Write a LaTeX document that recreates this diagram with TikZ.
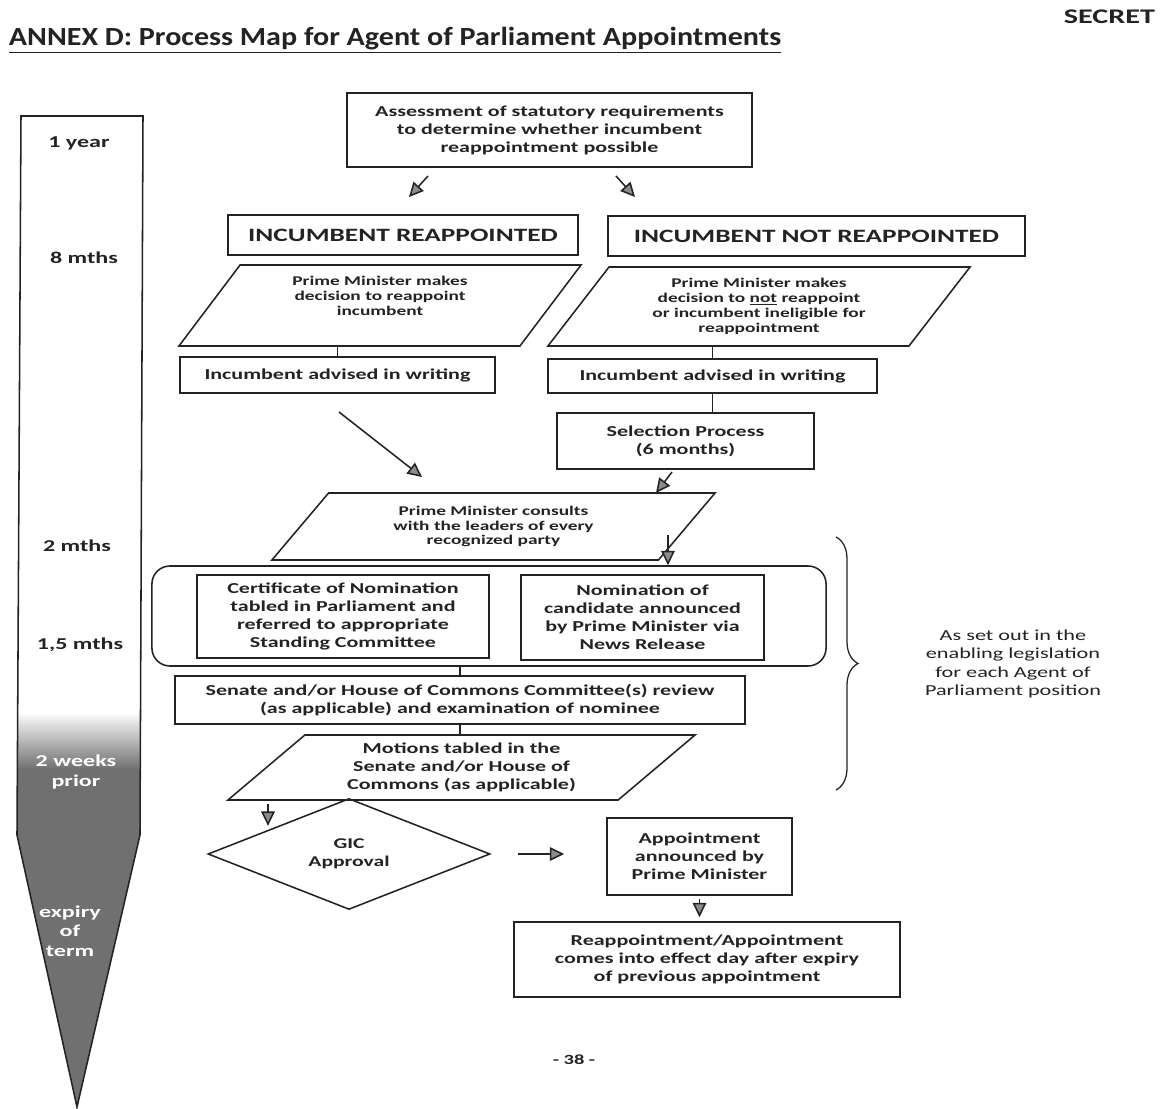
\documentclass[tikz,border=0pt]{standalone}
\usepackage{fontspec}
\setmainfont{Carlito}
\newfontfamily\widefont{Carlito}[FakeStretch=1.45]
\newfontfamily\titlefont{Carlito}[FakeStretch=1.15]
\usepackage{tikz}
\usetikzlibrary{shapes.geometric, arrows.meta, calc, decorations.pathreplacing}
\definecolor{inkgray}{RGB}{35,35,35}
\definecolor{headgray}{RGB}{140,140,140}
\definecolor{barfill}{RGB}{112,112,112}
\tikzset{
  box/.style={
    rectangle, draw=inkgray, line width=1.1pt, text=inkgray,
    align=center, inner sep=2pt,
    font=\widefont\bfseries\fontsize{10.8}{12.8}\selectfont},
  headbox/.style={
    box, font=\widefont\bfseries\fontsize{13.4}{16}\selectfont},
  slantbox/.style={
    trapezium, trapezium stretches body, draw=inkgray, line width=1.1pt,
    text=inkgray, align=center, inner sep=1pt,
    font=\widefont\bfseries\fontsize{9.5}{10.6}\selectfont},
  groupbox/.style={
    rectangle, draw=inkgray, line width=1.1pt, rounded corners=0.45cm},
  gicbox/.style={
    diamond, draw=inkgray, line width=1.1pt, text=inkgray,
    align=center, inner sep=0pt,
    font=\widefont\bfseries\fontsize{10.6}{12.6}\selectfont},
  tick/.style={
    text=inkgray, align=center,
    font=\widefont\bfseries\fontsize{11.8}{14}\selectfont},
  tickw/.style={tick, text=white},
  note/.style={
    text=inkgray, align=center,
    font=\widefont\fontsize{10.9}{13}\selectfont},
  arr/.style={-{Triangle[length=3.6mm, width=3.4mm, fill=headgray]}, line width=1.1pt, inkgray},
  link/.style={line width=1.1pt, inkgray},
}
\begin{document}
\begin{tikzpicture}[x=0.025cm, y=-0.025cm]
  \useasboundingbox (0,0) rectangle (1167,1109);

  % page header
  \node[anchor=east, text=inkgray, font=\widefont\bfseries\fontsize{14.8}{16}\selectfont]
    (secret) at (1160,17) {SECRET};
  \node[anchor=west, text=inkgray, font=\titlefont\bfseries\fontsize{18.6}{20}\selectfont]
    (title) at (4,40) {\underline{ANNEX D: Process Map for Agent of Parliament Appointments}};

  % time bar
  \begin{scope}
    \clip (21,116) -- (143,116) -- (140,835) -- (77,1107) -- (17,835) -- cycle;
    \fill[barfill] (0,768) rectangle (160,1109);
    \shade[top color=white, bottom color=barfill] (0,712) rectangle (160,769);
  \end{scope}
  \draw[link] (21,116) -- (143,116) -- (140,835) -- (77,1107) -- (17,835) -- cycle;
  \node[tick] (t1y) at (79,143) {1 year};
  \node[tick] (t8m) at (84,258) {8 mths};
  \node[tick] (t2m) at (77,546) {2 mths};
  \node[tick] (t15m) at (80,645) {1,5 mths};
  \node[tickw] (t2w) at (76,772) {2 weeks\\prior};
  \node[tickw] (texp) at (70,931) {expiry\\of\\term};

  % flow
  \node[box, minimum width=10.125cm, minimum height=1.85cm] (assess) at (549.5,130)
    {Assessment of statutory requirements\\to determine whether incumbent\\reappointment possible};
  \node[headbox, minimum width=8.75cm, minimum height=1cm] (reapp) at (403,235)
    {INCUMBENT REAPPOINTED};
  \node[headbox, minimum width=10.425cm, minimum height=1cm] (noreapp) at (816.5,236)
    {INCUMBENT NOT REAPPOINTED};
  \node[slantbox, trapezium left angle=45, trapezium right angle=135,
        minimum width=10.05cm, minimum height=2.025cm] (pmL) at (380,305.5)
    {Prime Minister makes\\decision to reappoint\\incumbent\\[3pt]};
  \node[slantbox, trapezium left angle=44, trapezium right angle=136,
        minimum width=10.55cm, minimum height=1.975cm] (pmR) at (759,306.5)
    {Prime Minister makes\\decision to \underline{not} reappoint\\or incumbent ineligible for\\reappointment};
  \node[box, minimum width=7.875cm, minimum height=0.9cm] (advL) at (337.5,375)
    {Incumbent advised in writing};
  \node[box, minimum width=8.225cm, minimum height=0.85cm] (advR) at (712.5,376)
    {Incumbent advised in writing};
  \node[box, minimum width=6.425cm, minimum height=1.4cm] (sel) at (685.5,441)
    {Selection Process\\(6 months)};
  \node[slantbox, trapezium left angle=38, trapezium right angle=142,
        minimum width=11.075cm, minimum height=1.675cm] (cons) at (493.5,526.5)
    {Prime Minister consults\\with the leaders of every\\recognized party};
  \node[groupbox, minimum width=16.85cm, minimum height=2.5cm] (grp) at (489,616) {};
  \node[box, minimum width=7.3cm, minimum height=2.075cm] (cert) at (343,616.5)
    {Certificate of Nomination\\tabled in Parliament and\\referred to appropriate\\Standing Committee};
  \node[box, minimum width=6.075cm, minimum height=2.125cm] (nom) at (642.5,617.5)
    {Nomination of\\candidate announced\\by Prime Minister via\\News Release};
  \node[box, minimum width=14.25cm, minimum height=1.2cm] (rev) at (460,700)
    {Senate and/or House of Commons Committee(s) review\\(as applicable) and examination of nominee};
  \node[slantbox, font=\widefont\bfseries\fontsize{10.8}{12.8}\selectfont,
        trapezium left angle=34, trapezium right angle=146,
        minimum width=11.675cm, minimum height=1.625cm] (mot) at (461.5,767.5)
    {Motions tabled in the\\Senate and/or House of\\Commons (as applicable)};
  \node[gicbox, minimum width=7.05cm, minimum height=2.3cm] (gic) at (349,854)
    {GIC\\Approval};
  \node[box, minimum width=4.625cm, minimum height=1.925cm] (appt) at (699.5,856.5)
    {Appointment\\announced by\\Prime Minister};
  \node[box, minimum width=9.65cm, minimum height=1.875cm] (res) at (707,959.5)
    {Reappointment/Appointment\\comes into effect day after expiry\\of previous appointment};

  % legislation note
  \coordinate (bt) at (836,537);
  \coordinate (bb) at (836,790);
  \draw[line width=0.9pt, inkgray, decorate, decoration={brace, amplitude=0.55cm}] (bt) -- (bb);
  \node[note] (legis) at (1013,664)
    {As set out in the\\enabling legislation\\for each Agent of\\Parliament position};

  \node[text=inkgray, font=\widefont\bfseries\fontsize{10}{12}\selectfont] (pgno) at (574,1060) {- 38 -};

  % connectors
  \coordinate (sL0) at (428,176);
  \coordinate (sL1) at (409,197);
  \coordinate (sR0) at (616,176);
  \coordinate (sR1) at (635,197);
  \coordinate (dL0) at (339,412);
  \coordinate (dL1) at (422,477);
  \coordinate (dS0) at (672,472);
  \coordinate (dS1) at (656,493);
  \coordinate (dC0) at (668,535);
  \coordinate (dM0) at (268,804);
  \draw[arr] (sL0) -- (sL1);
  \draw[arr] (sR0) -- (sR1);
  \draw[link] (advL.north) -- (advL.north |- pmL.south);
  \draw[link] (advR.north) -- (advR.north |- pmR.south);
  \draw[link] (advR.south) -- (advR.south |- sel.north);
  \draw[arr] (dL0) -- (dL1);
  \draw[arr] (dS0) -- (dS1);
  \draw[arr] (dC0) -- (dC0 |- grp.north);
  \draw[link] (rev.north) -- (rev.north |- grp.south);
  \draw[link] (rev.south) -- (rev.south |- mot.north);
  \draw[arr] (dM0) -- (dM0 |- gic.north west);
  \draw[arr, shorten <=0.675cm, shorten >=1.05cm] (gic.east) -- (gic.east -| appt.west);
  \draw[arr, shorten <=0.08cm, shorten >=0.1cm] (appt.south) -- (appt.south |- res.north);
\end{tikzpicture}
\end{document}
